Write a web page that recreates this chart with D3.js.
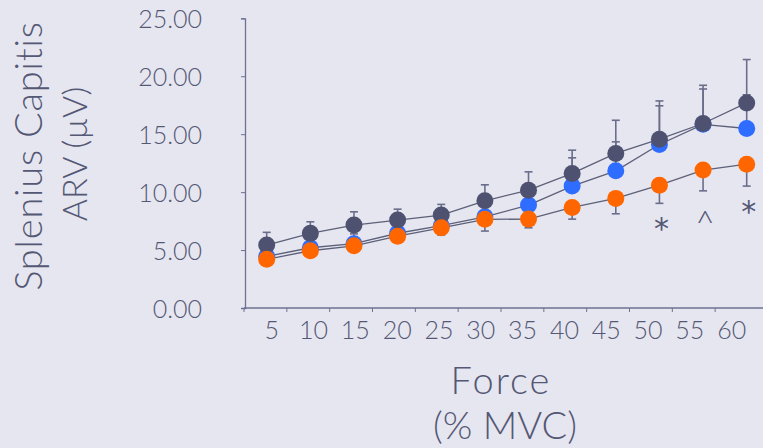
<!DOCTYPE html>
<html><head><meta charset="utf-8">
<script src="https://cdn.jsdelivr.net/npm/d3@7"></script>
<style>
html,body{margin:0;padding:0;background:#e6e6f0;}
svg{display:block;}
text{font-family:Lato,"Open Sans",sans-serif;font-weight:300;fill:#545874;}
</style></head>
<body><svg id="c" width="763" height="448"></svg>
<script>
const categories = ["5","10","15","20","25","30","35","40","45","50","55","60"];
const yTicks = [0,5,10,15,20,25];
const darkValues  = [5.43,6.44,7.16,7.59,8.02,9.25,10.17,11.61,13.34,14.57,15.92,17.70];
const darkUpper   = [6.53,7.44,8.30,8.53,8.94,10.63,11.75,13.62,16.20,17.87,19.22,21.44];
const blueValues  = [4.45,5.20,5.55,6.45,7.10,7.87,8.88,10.52,11.84,14.11,15.85,15.49];
const blueUpper   = [5.20,6.00,6.40,7.20,7.90,8.70,9.80,12.96,14.34,17.45,18.90,18.40];
const orangeValues= [4.20,4.94,5.37,6.20,6.92,7.65,7.67,8.68,9.46,10.60,11.90,12.41];
const orangeLower = [3.70,4.40,4.90,5.70,6.30,6.64,6.92,7.67,8.13,9.03,10.11,10.52];
const annotations = [{cat:"50",label:"*"},{cat:"55",label:"^"},{cat:"60",label:"*"}];
const yTitle = ["Splenius Capitis","ARV (\u00b5V)"];
const xTitle = ["Force","(% MVC)"];

const svg = d3.select("#c");
const y = d3.scaleLinear().domain([0,25]).range([308,18.3]);
const xBand = d3.scaleBand().domain(categories).range([244,758]);
const xPt = d3.scalePoint().domain(categories).range([266.7,746.7]);
const xLab = d3.scalePoint().domain(categories).range([271.7,731.7]);

const axisColor = "#6e7290";
// y axis
const gy = svg.append("g").attr("transform","translate(245,0)")
  .call(d3.axisLeft(y).tickValues(yTicks).tickSize(4).tickPadding(40).tickFormat(d3.format(".2f")));
gy.select(".domain").attr("stroke",axisColor).attr("stroke-width",1.3);
gy.selectAll(".tick line").attr("stroke",axisColor);
gy.selectAll(".tick text").attr("font-size",25).attr("x",-43).attr("dy","0.36em").style("font-family","Lato").style("fill","#545874");

// x axis line
svg.append("line").attr("x1",xBand.range()[0]).attr("x2",763).attr("y1",y(0)).attr("y2",y(0))
  .attr("stroke",axisColor).attr("stroke-width",1.3);
svg.selectAll(".xt").data(categories).join("line").attr("class","xt")
  .attr("x1",d=>xBand(d)).attr("x2",d=>xBand(d)).attr("y1",y(0)).attr("y2",y(0)+4)
  .attr("stroke",axisColor).attr("stroke-width",1);
svg.selectAll(".xl").data(categories).join("text").attr("class","xl")
  .attr("x",d=>xLab(d)).attr("y",y(0)+31).attr("text-anchor","middle").attr("font-size",25).text(d=>d);

// lines
const lineColor = "#5c6079";
function drawLine(vals){
  svg.append("path").datum(vals)
    .attr("d",d3.line().x((d,i)=>xPt(categories[i])).y(d=>y(d)))
    .attr("fill","none").attr("stroke",lineColor).attr("stroke-width",1.3);
}
drawLine(blueValues); drawLine(darkValues); drawLine(orangeValues);

const errColor = "#6a6e8a";
function drawErr(vals, ends){
  const g = svg.append("g");
  categories.forEach((c,i)=>{
    const x = xPt(c);
    g.append("line").attr("x1",x).attr("x2",x).attr("y1",y(vals[i])).attr("y2",y(ends[i]))
      .attr("stroke",errColor).attr("stroke-width",1.6);
    g.append("line").attr("x1",x-4).attr("x2",x+4).attr("y1",y(ends[i])).attr("y2",y(ends[i]))
      .attr("stroke",errColor).attr("stroke-width",1.6);
  });
}
function drawPts(vals,color){
  svg.append("g").selectAll("circle").data(vals).join("circle")
    .attr("cx",(d,i)=>xPt(categories[i])).attr("cy",d=>y(d)).attr("r",8.5).attr("fill",color);
}
drawErr(blueValues,blueUpper);
drawPts(blueValues,"#2e6dff");
drawErr(darkValues,darkUpper);
drawPts(darkValues,"#4e5270");
drawErr(orangeValues,orangeLower);
drawPts(orangeValues,"#ff6600");

// annotations
annotations.forEach(a=>{
  const i = categories.indexOf(a.cat);
  const star = a.label==="*";
  const t = svg.append("text").attr("x",xPt(a.cat)+2).attr("text-anchor","middle")
    .attr("font-size",star?30:34).style("font-family",star?"DejaVu Sans":"Lato").style("font-weight",star?400:300)
    .text(a.label);
  t.attr("y", y(orangeLower[i]) + (star?36:44));
});

// titles
svg.append("text").attr("transform","translate(42,156) rotate(-90)").attr("text-anchor","middle").attr("font-size",38).attr("letter-spacing",0.8).text(yTitle[0]);
svg.append("text").attr("transform","translate(87,154) rotate(-90)").attr("text-anchor","middle").attr("font-size",34).text(yTitle[1]);
svg.append("text").attr("x",501).attr("y",394).attr("text-anchor","middle").attr("font-size",38).attr("letter-spacing",2).text(xTitle[0]);
svg.append("text").attr("x",505).attr("y",439).attr("text-anchor","middle").attr("font-size",38).text(xTitle[1]);
</script></body></html>
